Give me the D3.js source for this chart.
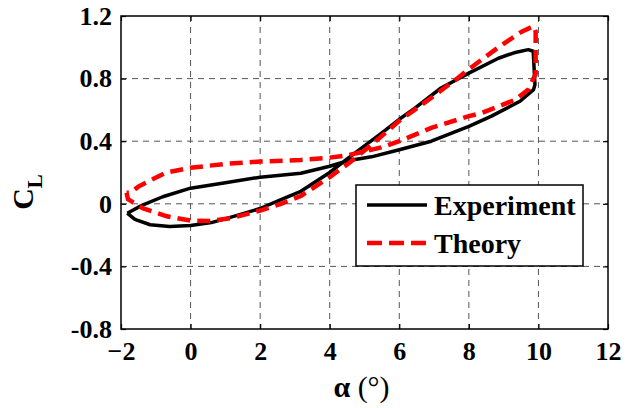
<!DOCTYPE html>
<html>
<head>
<meta charset="utf-8">
<script src="https://cdn.jsdelivr.net/npm/d3@7"></script>
<style>
  body { margin: 0; background: #fff; }
  svg { display: block; }
</style>
</head>
<body>
<div id="chart"></div>
<script>
// ticks of both axes
var alphaTicks = [-2, 0, 2, 4, 6, 8, 10, 12]
var clTicks = [-0.8, -0.4, 0, 0.4, 0.8, 1.2]

// Experiment loop
var expAlpha = [-1.82, -1.6, -1.16, -0.6, 0, 0.6, 1.24, 2, 2.6, 3.17, 4, 4.52, 5.0, 5.48, 6, 6.44, 7.2, 8, 8.85, 9.3, 9.71, 9.85, 9.9, 9.86, 9.47, 8.65, 8.0, 6.92, 6.0, 5.2, 4.52, 4.0, 3.17, 2.0, 1.0, 0, -0.8, -1.4, -1.82]
var expCL    = [-0.06, -0.10, -0.134, -0.145, -0.139, -0.12, -0.08, -0.03, 0.026, 0.08, 0.20, 0.29, 0.37, 0.45, 0.54, 0.61, 0.74, 0.835, 0.93, 0.965, 0.985, 0.975, 0.76, 0.73, 0.655, 0.56, 0.495, 0.40, 0.345, 0.30, 0.275, 0.24, 0.195, 0.17, 0.135, 0.10, 0.045, -0.01, -0.06]

// Theory loop
var thAlpha = [-1.84, -1.8, -1.36, -0.68, 0, 0.57, 1.2, 2, 2.6, 3.17, 4, 4.52, 5.0, 5.48, 6, 6.5, 7.0, 7.69, 8, 8.85, 9.52, 9.86, 9.92, 9.92, 9.71, 9.33, 8.37, 8.0, 6.92, 6.0, 5.48, 4.52, 4.0, 3.17, 2.0, 1.0, 0, -0.7, -1.16, -1.5, -1.74, -1.84]
var thCL    = [0.07, 0.03, -0.03, -0.08, -0.107, -0.11, -0.09, -0.043, 0.0, 0.05, 0.17, 0.255, 0.34, 0.43, 0.53, 0.61, 0.69, 0.805, 0.86, 1.0, 1.10, 1.135, 1.10, 0.83, 0.73, 0.665, 0.58, 0.56, 0.485, 0.40, 0.36, 0.31, 0.295, 0.28, 0.27, 0.255, 0.23, 0.20, 0.15, 0.11, 0.07, 0.07]

var legendNames = ["Experiment", "Theory"]

var width = 634, height = 408
var margin = {top: 16, right: 26, bottom: 79, left: 121}
var plotW = width - margin.left - margin.right
var plotH = height - margin.top - margin.bottom

var svg = d3.select("#chart").append("svg")
            .attr("width", width)
            .attr("height", height)

var g = svg.append("g").attr("transform", "translate(" + margin.left + "," + margin.top + ")")

var x = d3.scaleLinear().domain([-2, 12]).range([0, plotW])
var y = d3.scaleLinear().domain([-0.8, 1.2]).range([plotH, 0])

// grid
g.selectAll(".vgrid").data(alphaTicks.slice(1, -1)).enter().append("line")
    .attr("x1", d => x(d)).attr("x2", d => x(d))
    .attr("y1", 0).attr("y2", plotH)
    .style("stroke", "#555").style("stroke-width", 1).style("stroke-dasharray", "6,5")
g.selectAll(".hgrid").data(clTicks.slice(1, -1)).enter().append("line")
    .attr("x1", 0).attr("x2", plotW)
    .attr("y1", d => y(d)).attr("y2", d => y(d))
    .style("stroke", "#555").style("stroke-width", 1).style("stroke-dasharray", "6,5")

var fmtY = d => d === 0 ? "0" : d.toFixed(1)

var xAxis = g.append("g").attr("transform", "translate(0," + plotH + ")")
    .call(d3.axisBottom(x).tickValues(alphaTicks).tickSize(-5).tickPadding(13).tickFormat(d3.format("d")))
var yAxis = g.append("g")
    .call(d3.axisLeft(y).tickValues(clTicks).tickSize(-5).tickPadding(9).tickFormat(fmtY))
g.append("g").attr("transform", "translate(0,0)")
    .call(d3.axisTop(x).tickValues(alphaTicks).tickSize(-5).tickFormat(""))
g.append("g").attr("transform", "translate(" + plotW + ",0)")
    .call(d3.axisRight(y).tickValues(clTicks).tickSize(-5).tickFormat(""))

g.selectAll(".domain").remove()
g.selectAll(".tick line").style("stroke", "#000").style("stroke-width", 1.2)
g.selectAll(".tick text")
    .style("font-family", "'Liberation Serif', 'Times New Roman', serif")
    .style("font-weight", "bold")
    .style("font-size", "26px")
    .style("fill", "#000")

// frame
g.append("rect").attr("x", 0).attr("y", 0).attr("width", plotW).attr("height", plotH)
    .style("fill", "none").style("stroke", "#000").style("stroke-width", 1.5)

// curves
var line = d3.line().x(d => x(d[0])).y(d => y(d[1]))
var expData = expAlpha.map((a, i) => [a, expCL[i]])
var thData = thAlpha.map((a, i) => [a, thCL[i]])

g.append("path").datum(expData).attr("d", line)
    .style("fill", "none").style("stroke", "#000").style("stroke-width", 3.5)
    .style("stroke-linejoin", "round")
g.append("path").datum(thData).attr("d", line)
    .style("fill", "none").style("stroke", "#ff0000").style("stroke-width", 4.5)
    .style("stroke-dasharray", "13,7")

// legend
var lg = svg.append("g").attr("transform", "translate(356,185)")
lg.append("rect").attr("width", 227).attr("height", 81)
    .style("fill", "#fff").style("stroke", "#000").style("stroke-width", 1.5)
var legendStyles = [{c: "#000", w: 3.5, dash: null}, {c: "#ff0000", w: 4.5, dash: "15,7"}]
for (var i = 0; i < legendNames.length; i++) {
    var ly = 20 + 38 * i
    lg.append("line").attr("x1", 11).attr("x2", 71).attr("y1", ly).attr("y2", ly)
        .style("stroke", legendStyles[i].c).style("stroke-width", legendStyles[i].w)
        .style("stroke-dasharray", legendStyles[i].dash)
    lg.append("text").attr("x", 78).attr("y", ly + 10).text(legendNames[i])
        .style("font-family", "'Liberation Serif', 'Times New Roman', serif")
        .style("font-weight", "bold").style("font-size", "28px")
}

// axis titles
var xt = svg.append("text").attr("x", margin.left + plotW / 2 - 3).attr("y", 397)
    .attr("text-anchor", "middle")
    .style("font-family", "'Liberation Serif', 'Times New Roman', serif").style("font-size", "30px")
xt.append("tspan").text("α").style("font-weight", "bold")
xt.append("tspan").text(" (°)")

var yt = svg.append("text").attr("transform", "translate(33,192) rotate(-90)")
    .attr("text-anchor", "middle")
    .style("font-family", "'Liberation Serif', 'Times New Roman', serif").style("font-weight", "bold")
    .style("font-size", "30px")
yt.append("tspan").text("C")
yt.append("tspan").text("L").attr("dy", 9).style("font-size", "21px")
</script>
</body>
</html>
